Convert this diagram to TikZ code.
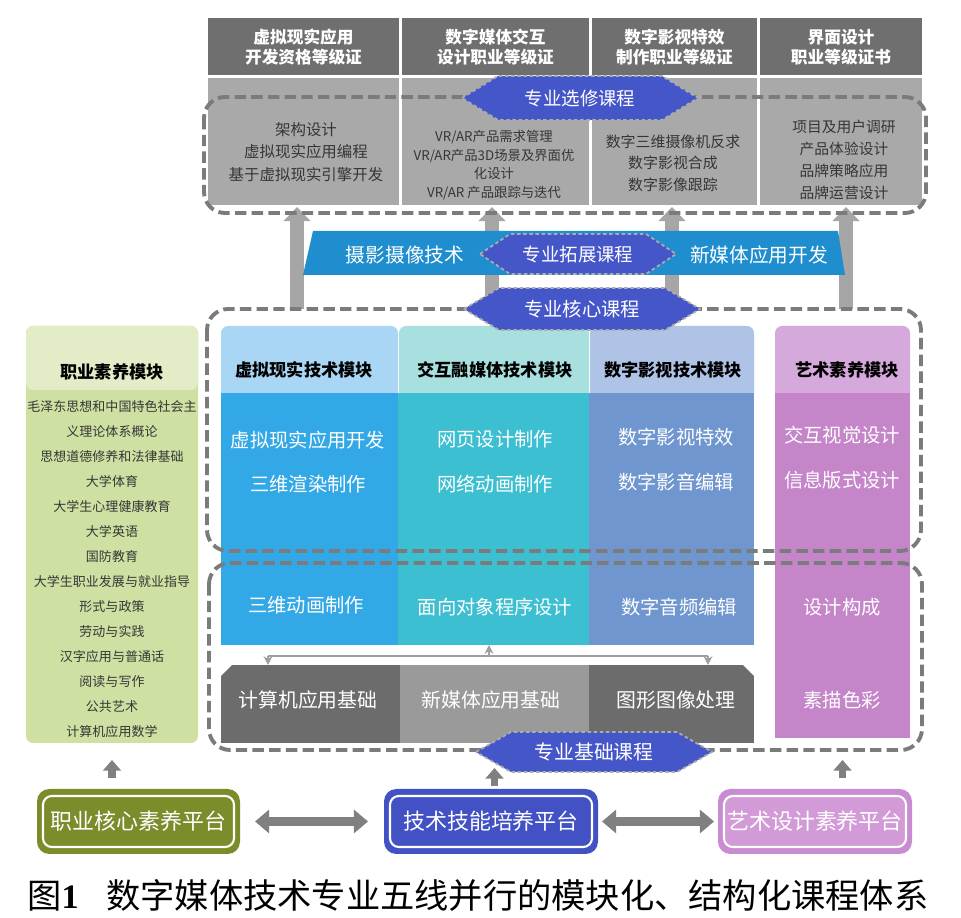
\documentclass[tikz,border=0pt]{standalone}
\usepackage{fontspec}
\setmainfont{Noto Sans CJK SC}
\newfontfamily\capnum{Liberation Serif}
\usetikzlibrary{arrows.meta,fit,calc}
\newcommand\pxu{0.02cm}
\newcommand\fs[2]{\fontsize{#1}{#2}\selectfont}
\definecolor{hdrgray}{HTML}{6F6F6F}
\definecolor{colgray}{HTML}{A9A9A9}
\definecolor{dashgray}{HTML}{7B7B7B}
\definecolor{hexblue}{HTML}{4556C9}
\definecolor{bandblue}{HTML}{1F8ECF}
\definecolor{arrowgray}{HTML}{A6A6A6}
\definecolor{textdark}{HTML}{363636}
\definecolor{c1h}{HTML}{A8D6F4}
\definecolor{c1b}{HTML}{33A8E6}
\definecolor{c2h}{HTML}{A8E0DF}
\definecolor{c2b}{HTML}{3BBFD1}
\definecolor{c3h}{HTML}{AEC3E5}
\definecolor{c3b}{HTML}{7096CF}
\definecolor{c4h}{HTML}{D6A9DC}
\definecolor{c4b}{HTML}{C485C9}
\definecolor{grh}{HTML}{E2ECC6}
\definecolor{grb}{HTML}{CEE0A2}
\definecolor{kdark}{HTML}{6C6C6C}
\definecolor{klight}{HTML}{9A9A9A}
\definecolor{pgreen}{HTML}{7B8C2A}
\definecolor{pblue}{HTML}{4251C3}
\definecolor{ppurple}{HTML}{C98BD1}
\definecolor{ppurplein}{HTML}{D29BD8}
\definecolor{platarrow}{HTML}{808080}
\newcommand\hexagonnode[7]{%
  \filldraw[hexfill] (#2-#4,#3) -- (#2-#4+#6,#3-#5) -- (#2+#4-#6,#3-#5) -- (#2+#4,#3)
     -- (#2+#4-#6,#3+#5) -- (#2-#4+#6,#3+#5) -- cycle;
  \node[hextext] (#1) at (#2,#3) {#7};}
\tikzset{
  box/.style={inner sep=0pt, outer sep=0pt},
  hdr/.style={box, fill=hdrgray},
  hdrtxt/.style={inner sep=0pt, text=white, font=\bfseries\fs{9.5}{11.3}, align=center},
  gcol/.style={box, fill=colgray},
  gtxt/.style={text=textdark, align=center, inner sep=0pt},
  dashbox/.style={box, draw=dashgray, line width=2.2pt, dash pattern=on 6.5pt off 3pt, rounded corners=12pt},
  hexfill/.style={fill=hexblue, draw=gray!65, line width=1pt, dash pattern=on 2pt off 1.5pt},
  hextext/.style={text=white, inner sep=0pt, font=\fs{10.5}{12}},
  bigarrow/.style={draw=arrowgray, line width=8pt, -{Triangle[length=8pt,width=15pt]}},
  modbox/.style={box, rounded corners=4pt},
  modtitle/.style={inner sep=0pt, font=\bfseries\fs{9.8}{12}, text=black},
  whitetxt/.style={inner sep=0pt, text=white, align=center, font=\fs{11}{25.5}},
  bandtxt/.style={inner sep=0pt, text=white, font=\fs{11.2}{13}},
  conn/.style={draw=gray!75, line width=1.2pt},
  plat/.style={box, rounded corners=7pt},
  platin/.style={box, draw=white, line width=1.2pt, rounded corners=5pt},
  plattxt/.style={inner sep=0pt, text=white, font=\fs{12.5}{14}},
  dblarrow/.style={draw=platarrow, line width=5pt, {Triangle[length=8pt,width=13pt]}-{Triangle[length=8pt,width=13pt]}},
  smallarrow/.style={draw=platarrow, line width=4pt, -{Triangle[length=6pt,width=10pt]}}
}
\begin{document}
\begin{tikzpicture}[x=0.02cm,y=-0.02cm]
\useasboundingbox[fill=white] (0,0) rectangle (961,918);

% ---------- outer dashed frames as named nodes (drawn later) ----------
\path (204,97) coordinate (optNW) (926,213) coordinate (optSE);
\path (207,309) coordinate (coreNW) (921,551) coordinate (coreSE);
\path (209,563) coordinate (baseNW) (922,750) coordinate (baseSE);
\node[box, fit=(optNW)(optSE)] (optbox) {};
\node[box, fit=(coreNW)(coreSE)] (corebox) {};
\node[box, fit=(baseNW)(baseSE)] (basebox) {};

% ---------- big up arrows ----------
\coordinate (a1) at (297,0);
\coordinate (a2) at (492,0);
\coordinate (a3) at (672,0);
\coordinate (a4) at (846,0);
\foreach \a in {a1,a2,a3,a4}
  \draw[bigarrow, shorten >=-6*\pxu] (\a |- corebox.north) -- (\a |- optbox.south);

% ---------- certificates ----------
\node[hdr, fit={(208,18)(399,75)}] (h1) {};
\node[hdr, fit={(402,18)(589,75)}] (h2) {};
\node[hdr, fit={(592,18)(757,75)}] (h3) {};
\node[hdr, fit={(760,18)(922,75)}] (h4) {};
\node[hdrtxt] (h1t) at (303.5,47) {虚拟现实应用\\开发资格等级证};
\node[hdrtxt] (h2t) at (495.5,47) {数字媒体交互\\设计职业等级证};
\node[hdrtxt] (h3t) at (674.5,47) {数字影视特效\\制作职业等级证};
\node[hdrtxt] (h4t) at (841,47) {界面设计\\职业等级证书};

\node[gcol, fit={(208,78)(399,205)}] (g1) {};
\node[gcol, fit={(402,78)(589,205)}] (g2) {};
\node[gcol, fit={(592,78)(757,205)}] (g3) {};
\node[gcol, fit={(760,78)(922,205)}] (g4) {};
\node[gtxt, font=\fs{8.8}{12.8}] (t1) at (306,152) {架构设计\\虚拟现实应用编程\\基于虚拟现实引擎开发};
\node[gtxt, font=\fs{7.6}{10.6}] (t2) at (494,165) {VR/AR产品需求管理\\VR/AR产品3D场景及界面优\\化设计\\VR/AR 产品跟踪与迭代};
\node[gtxt, font=\fs{8.5}{12.2}] (t3) at (673,163) {数字三维摄像机反求\\数字影视合成\\数字影像跟踪};
\node[gtxt, font=\fs{8.4}{12.5}] (t4) at (844,160) {项目及用户调研\\产品体验设计\\品牌策略应用\\品牌运营设计};

\draw[dashbox] (optbox.north west) rectangle (optbox.south east);
\hexagonnode{hexopt}{580}{98}{118}{22}{36}{专业选修课程}

% ---------- extension band ----------
\fill[bandblue] (313,231) -- (838,231) -- (845,275) -- (303,275) -- cycle;
\node[bandtxt] (e1) at (405,255) {摄影摄像技术};
\node[bandtxt] (e2) at (759,255) {新媒体应用开发};
\hexagonnode{hexext}{578}{254}{98}{20}{30}{专业拓展课程}

% ---------- left green module ----------
\node[modbox, fill=grb, fit={(26,326)(198,743)}] (gb) {};
\node[modbox, fill=grh, fit={(26,326)(198,390)}] (gh) {};
\node[modtitle] (gt) at (112,372) {职业素养模块};
\node[inner sep=0pt, align=center, text=textdark, font=\fs{7.4}{14.2}] (gl) at (112,569)
 {毛泽东思想和中国特色社会主\\义理论体系概论\\思想道德修养和法律基础\\大学体育\\大学生心理健康教育\\大学英语\\国防教育\\大学生职业发展与就业指导\\形式与政策\\劳动与实践\\汉字应用与普通话\\阅读与写作\\公共艺术\\计算机应用数学};

% ---------- core modules ----------
\node[modbox, fill=c1h, fit={(221,326)(398,400)}] (m1h) {};
\node[modbox, fill=c2h, fit={(399,326)(589,400)}] (m2h) {};
\node[modbox, fill=c3h, fit={(590,326)(754,400)}] (m3h) {};
\node[modbox, fill=c4h, fit={(775,326)(910,400)}] (m4h) {};
\node[box, fill=c1b, fit={(221,393)(398,645)}] (m1b) {};
\node[box, fill=c2b, fit={(398,393)(589,645)}] (m2b) {};
\node[box, fill=c3b, fit={(589,393)(754,645)}] (m3b) {};
\node[box, fill=c4b, fit={(775,393)(910,738)}] (m4b) {};
\node[modtitle] (mt1) at (304,370) {虚拟现实技术模块};
\node[modtitle] (mt2) at (495,370) {交互融媒体技术模块};
\node[modtitle] (mt3) at (673,370) {数字影视技术模块};
\node[modtitle] (mt4) at (847,370) {艺术素养模块};
\node[whitetxt] (w1) at (308,462) {虚拟现实应用开发\\三维渲染制作};
\node[whitetxt] (w2) at (495,462) {网页设计制作\\网络动画制作};
\node[whitetxt] (w3) at (676,460) {数字影视特效\\数字影音编辑};
\node[whitetxt] (w4) at (842,458) {交互视觉设计\\信息版式设计};
\node[whitetxt] (l1) at (306,605) {三维动画制作};
\node[whitetxt] (l2) at (495,607) {面向对象程序设计};
\node[whitetxt] (l3) at (679,607) {数字音频编辑};
\node[whitetxt] (l4) at (842,607) {设计构成};
\node[whitetxt] (l5) at (842,700) {素描色彩};

\draw[dashbox] (corebox.north west) rectangle (corebox.south east);
\hexagonnode{hexcore}{582}{309}{118}{21}{35}{\fs{11}{13}专业核心课程}

% ---------- foundation ----------
\node[box, fill=kdark, fit={(221,665)(400,743)}] (kb1) {};
\node[box, fill=klight, fit={(400,665)(589,743)}] (kb2) {};
\node[box, fill=kdark, fit={(589,665)(754,743)}] (kb3) {};
\fill[white] (220,664) -- (233,664) -- (220,677) -- cycle;
\fill[white] (755,664) -- (742,664) -- (755,677) -- cycle;
\node[whitetxt, font=\fs{11.3}{13}] (k1) at (308,700) {计算机应用基础};
\node[whitetxt, font=\fs{11.3}{13}] (k2) at (491,700) {新媒体应用基础};
\node[whitetxt, font=\fs{11.3}{13}] (k3) at (676,700) {图形图像处理};

\coordinate (jl) at (268,656);
\coordinate (jm) at (489,656);
\coordinate (jr) at (708,656);
\draw[conn] (jl) -- (jr);
\draw[conn, -{Stealth[length=5pt,width=5pt]}] (jl) -- (jl |- kb1.north);
\draw[conn, -{Stealth[length=5pt,width=5pt]}] (jr) -- (jr |- kb3.north);
\draw[conn, -{Stealth[length=5pt,width=5pt]}] (jm) -- (jm |- m2b.south);

\draw[dashbox] (basebox.north west) rectangle (basebox.south east);
\hexagonnode{hexbase}{594}{752}{118}{20}{35}{\fs{11.3}{13}专业基础课程}

% ---------- platforms ----------
\node[plat, fill=pgreen, fit={(37,789)(240,854)}] (p1) {};
\node[platin, fit={(43,796)(234,847)}] (p1i) {};
\node[plattxt] (p1t) at (138.5,821.5) {职业核心素养平台};
\node[plat, fill=pblue, fit={(384,789)(598,854)}] (p2) {};
\node[platin, fit={(390,796)(592,847)}] (p2i) {};
\node[plattxt] (p2t) at (491,821.5) {技术技能培养平台};
\node[plat, fill=ppurple, fit={(718,789)(912,854)}] (p3) {};
\node[platin, fill=ppurplein, fit={(724,796)(906,847)}] (p3i) {};
\node[plattxt] (p3t) at (815,821.5) {艺术设计素养平台};

\draw[dblarrow, shorten <=15*\pxu, shorten >=16*\pxu] (p1.east) -- (p2.west);
\draw[dblarrow, shorten <=4*\pxu, shorten >=4*\pxu] (p2.east) -- (p3.west);

\draw[smallarrow, shorten <=11*\pxu, shorten >=17*\pxu] (gb.south |- p1.north) -- (gb.south);
\draw[smallarrow, shorten <=3*\pxu, shorten >=25*\pxu] (kb2.south |- p2.north) -- (kb2.south);
\draw[smallarrow, shorten <=11*\pxu, shorten >=22*\pxu] (m4b.south |- p3.north) -- (m4b.south);

% ---------- caption ----------
\node[inner sep=0pt, font=\fs{19.5}{22}, text=black] (cap) at (478,895)
  {图{\capnum\bfseries 1}\hspace{0.8em}数字媒体技术专业五线并行的模块化、结构化课程体系};
\end{tikzpicture}
\end{document}
